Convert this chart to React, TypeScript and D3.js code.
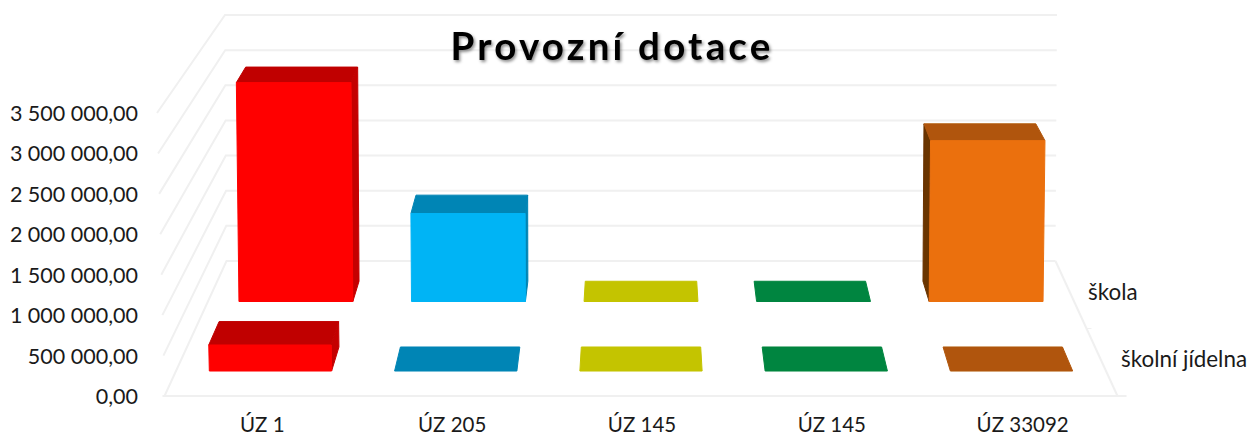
import React from "react";
import * as d3 from "d3";

const categories = ["ÚZ 1", "ÚZ 205", "ÚZ 145 ", "ÚZ 145", "ÚZ 33092"];
const seriesNames = ["škola", "školní jídelna"];
const skolaValues = [2980000, 1198000, 0, 0, 2190000];
const jidelnaValues = [330000, 0, 0, 0, 0];
const yTicks = [0, 500000, 1000000, 1500000, 2000000, 2500000, 3000000, 3500000];
const yTickLabels = ["0,00", "500 000,00", "1 000 000,00", "1 500 000,00", "2 000 000,00", "2 500 000,00", "3 000 000,00", "3 500 000,00"];
const frontColors = ["#ff0000", "#00b4f5", "#c6c600", "#00853f", "#eb7010"];
const topColors = ["#c00000", "#0085b5", "#c4c400", "#00853f", "#b05508"];
const sideColors = ["#c40000", "#0085b5", "#c4c400", "#00853f", "#6a3404"];

const W = 1250, H = 436;
const centerX = 641;
// Oblique projection of the 3D plot box: depth t (0 = front, 1 = back) and value v.
const vMax = 3500000;
const floorY = d3.scaleLinear().domain([0, 1]).range([396, 261]);
const frontY = d3.scaleLinear().domain([0, vMax]).range([396, 113]);
const backY = d3.scaleLinear().domain([0, vMax]).range([261, 15]);
const widthAt0 = d3.scaleLinear().domain([0, 1]).range([953, 829]);
const widthAtTop = d3.scaleLinear().domain([0, 1]).range([968, 832]);
const valueFrac = d3.scaleLinear().domain([0, vMax]).range([0, 1]);

const px = (u: number, t: number, v: number) => {
  const w = d3.interpolateNumber(widthAt0(t), widthAtTop(t))(valueFrac(v));
  return centerX + (u - 0.5) * w;
};
const py = (t: number, v: number) => floorY(t) - (frontY(0) - frontY(v)) * (1 - t) - (backY(0) - backY(v)) * t;
const pt = (u: number, t: number, v: number): [number, number] => [px(u, t, v), py(t, v)];

const band = d3.scaleBand<number>().domain(d3.range(categories.length)).range([0, 1]).paddingInner(0.34).paddingOuter(0.18);
const seriesDepth: [number, number][] = [[0.70, 0.85], [0.185, 0.363]];
const seriesLabelPos = [[1088, 300], [1121, 367]];

const poly = d3.line<[number, number]>().curve(d3.curveLinearClosed);
const font = "Lato, 'Open Sans', sans-serif";
const grid = "#f0f0f0";

function Bar({ i, v, depth }: { i: number; v: number; depth: [number, number] }) {
  const u0 = band(i)!;
  const u1 = u0 + band.bandwidth();
  const [t0, t1] = depth;
  const top = [pt(u0, t0, v), pt(u1, t0, v), pt(u1, t1, v), pt(u0, t1, v)] as [number, number][];
  const front = [pt(u0, t0, 0), pt(u1, t0, 0), pt(u1, t0, v), pt(u0, t0, v)] as [number, number][];
  const uS = i < 2 ? u1 : i > 2 ? u0 : u1;
  const side = [pt(uS, t0, 0), pt(uS, t1, 0), pt(uS, t1, v), pt(uS, t0, v)] as [number, number][];
  const face = (pts: [number, number][], c: string) => (
    <path d={poly(pts)!} fill={c} stroke={c} strokeWidth={1} strokeLinejoin="round" />
  );
  return (
    <g>
      {v > 0 && face(side, sideColors[i])}
      {face(top, topColors[i])}
      {v > 0 && face(front, frontColors[i])}
    </g>
  );
}

export default function App() {
  return (
    <svg width={W} height={H} style={{ position: "absolute", left: 0, top: 0, display: "block", background: "#fff" }}>
      <defs>
        <filter id="soft" x="-5%" y="-5%" width="110%" height="110%">
          <feGaussianBlur stdDeviation="0.7" />
        </filter>
        <filter id="titleShadow" x="-5%" y="-20%" width="110%" height="150%">
          <feDropShadow dx="1.5" dy="2" stdDeviation="1.5" floodColor="#000" floodOpacity="0.45" />
        </filter>
      </defs>
      {/* wall gridlines */}
      <g fill="none" stroke={grid} strokeWidth={2}>
        {yTicks.map((v) => (
          <path key={v} d={d3.line()([pt(0, 0, v), pt(0, 1, v), pt(1, 1, v)])!} />
        ))}
        {/* floor */}
        <path d={d3.line()([[pt(0, 0, 0)[0] - 2, 396], pt(1, 0, 0), [pt(1, 0, 0)[0] + 9, 396]])!} />
        <path d={d3.line()([pt(1, 1, 0), pt(1, 0, 0)])!} />
        <path d={d3.line()([pt(1, 0.5, 0), [pt(1, 0.5, 0)[0] + 5, py(0.5, 0)]])!} strokeWidth={1} />
      </g>
      {/* bars, back series first */}
      <g filter="url(#soft)">
        {skolaValues.map((v, i) => <Bar key={i} i={i} v={v} depth={seriesDepth[0]} />)}
        {jidelnaValues.map((v, i) => <Bar key={i} i={i} v={v} depth={seriesDepth[1]} />)}
      </g>
      {/* axis text */}
      <g fontFamily={font} fill="#1a1a1a">
        <g fontSize={21.5}>
          {yTicks.map((v, i) => (
            <text key={v} x={138} y={py(0, v) + 8} textAnchor="end">{yTickLabels[i]}</text>
          ))}
        </g>
        <g fontSize={20.5}>
          {categories.map((c, i) => (
            <text key={i} x={px(band(i)! + band.bandwidth() / 2, 0, 0) + (i === 4 ? 2 : 1)} y={431.8} textAnchor="middle">{c.trim()}</text>
          ))}
        </g>
        <g fontSize={22.4}>
          {seriesNames.map((s, i) => (
            <text key={s} x={seriesLabelPos[i][0]} y={seriesLabelPos[i][1]}>{s}</text>
          ))}
        </g>
      </g>
      <text x={612} y={60} textAnchor="middle" fontFamily={font} fontWeight={700} fontSize={38.5} letterSpacing={3.2} fill="#000" filter="url(#titleShadow)">
        Provozní dotace
      </text>
    </svg>
  );
}
